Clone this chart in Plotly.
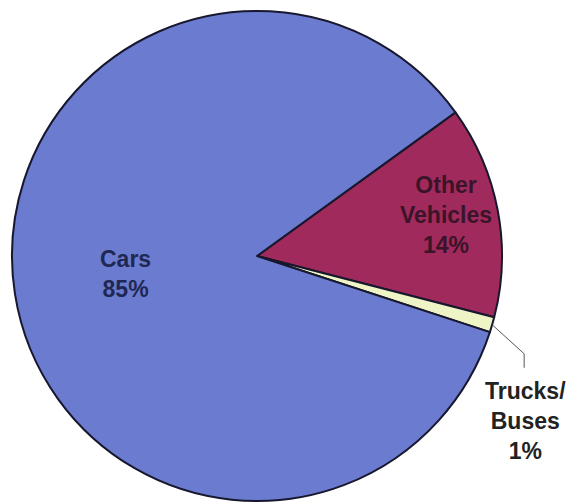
import math
import plotly.graph_objects as go

# Data
categories = ["Other<br>Vehicles", "Trucks/<br>Buses", "Cars"]
values = [14, 1, 85]
pct_labels = ["14%", "1%", "85%"]

W, H = 568, 503
colors = ["#a02a5c", "#eef4c6", "#6b7cd0"]
text_colors = ["#3a1428", "#222222", "#1e2852"]
label_radius = [0.79, None, 0.54]  # fraction of radius for inside labels
label_shift = [1.5, None, -1.0]    # degrees added to the slice mid-angle

# pie geometry (pixels)
cx, cy, r = 257, 256, 245
start_deg = 35.9  # math angle where the first slice starts (going clockwise)

xdom = [(cx - r) / W, (cx + r) / W]
ydom = [(H - cy - r) / H, (H - cy + r) / H]

fig = go.Figure(go.Pie(
    labels=categories,
    values=values,
    textinfo="none",
    sort=False,
    direction="clockwise",
    rotation=90 - start_deg,
    marker=dict(colors=colors, line=dict(color="#17172e", width=2)),
    domain=dict(x=xdom, y=ydom),
    showlegend=False,
    hoverinfo="label+percent",
))

def px(x):
    return x / W

def py(y):
    return 1 - y / H

total = sum(values)
cum = 0
mids = []
for v in values:
    mids.append(start_deg - 360 * (cum + v / 2) / total)
    cum += v

font = dict(family="Liberation Sans, Arial", size=23, weight="bold")

# inside labels at data-derived angles
for i in (0, 2):
    a = math.radians(mids[i] + label_shift[i])
    x = cx + label_radius[i] * r * math.cos(a)
    y = cy - label_radius[i] * r * math.sin(a)
    fig.add_annotation(x=px(x), y=py(y), xref="paper", yref="paper",
                       text=f"{categories[i]}<br>{pct_labels[i]}", showarrow=False,
                       xanchor="center", yanchor="middle", align="center",
                       font=dict(**font, color=text_colors[i]))

# Leader line and label for the tiny Trucks/Buses slice
a = math.radians(mids[1])
rim_x = cx + r * math.cos(a)
rim_y = cy - r * math.sin(a)
bend_x, bend_y = rim_x + 32, rim_y + 29
end_x, end_y = bend_x, bend_y + 14

fig.add_shape(type="path",
              path=f"M {px(rim_x)} {py(rim_y)} L {px(bend_x)} {py(bend_y)} L {px(end_x)} {py(end_y)}",
              xref="paper", yref="paper", line=dict(color="#555555", width=1))

fig.add_annotation(x=px(end_x + 1), y=py(end_y + 8), xref="paper", yref="paper",
                   text=f"{categories[1]}<br>{pct_labels[1]}", showarrow=False,
                   xanchor="center", yanchor="top", align="center",
                   font=dict(**font, color=text_colors[1]))

fig.update_layout(width=W, height=H, margin=dict(l=0, r=0, t=0, b=0),
                  paper_bgcolor="white", plot_bgcolor="white",
                  font=dict(family="Liberation Sans, Arial"))

fig.write_html("out.html", config={"displayModeBar": False},
               post_script="document.body.style.margin='0';")
